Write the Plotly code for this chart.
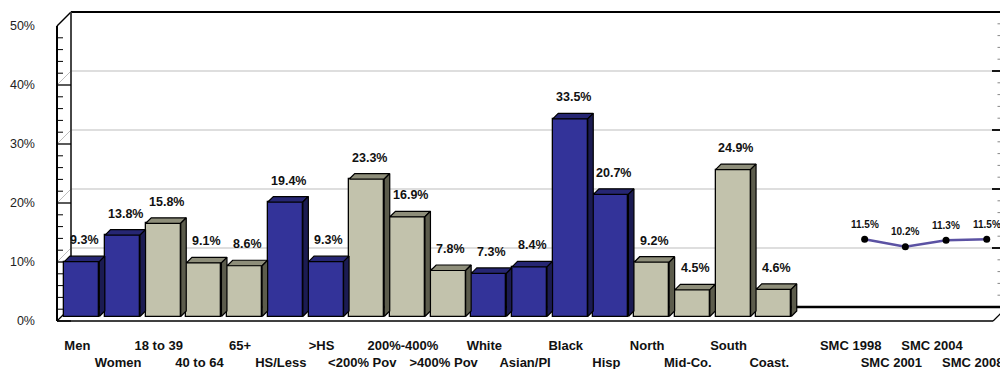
import plotly.graph_objects as go

# ---------------- data ----------------
categories = ["Men", "Women", "18 to 39", "40 to 64", "65+", "HS/Less", ">HS",
              "<200% Pov", "200%-400%", ">400% Pov", "White", "Asian/PI", "Black",
              "Hisp", "North", "Mid-Co.", "South", "Coast."]
values = [9.3, 13.8, 15.8, 9.1, 8.6, 19.4, 9.3, 23.3, 16.9, 7.8, 7.3, 8.4, 33.5,
          20.7, 9.2, 4.5, 24.9, 4.6]
groups = ["navy", "navy", "gray", "gray", "gray", "navy", "navy", "gray", "gray",
          "gray", "navy", "navy", "navy", "navy", "gray", "gray", "gray", "gray"]
smc_labels = ["SMC 1998", "SMC 2001", "SMC 2004", "SMC 2008"]
smc_values = [11.5, 10.2, 11.3, 11.5]
y_tickvals = [0, 10, 20, 30, 40, 50]
y_ticktext = ["0%", "10%", "20%", "30%", "40%", "50%"]

# ---------------- geometry ----------------
W, H = 1000, 369
PX_CAT = 40.7      # px per category
PX_PCT = 5.9       # px per percent
FRONT_LEFT = 57    # px of front-left wall edge
FLOOR = 321        # px of front floor edge
PL, PR, PT, PB = 50, 1000, 9, 327   # plot area in px


def px2x(px):
    return (px - FRONT_LEFT) / PX_CAT - 0.5


def px2y(py):
    return (FLOOR - py) / PX_PCT


DX, DY = 14 / PX_CAT, 14 / PX_PCT            # full depth of the 3D box
BDX, BDY = 4.5 / PX_CAT, 4.5 / PX_PCT        # bar front-face depth
TDX, TDY = 5.5 / PX_CAT, 5.5 / PX_PCT        # bar thickness
BW = 35 / PX_CAT

COL = {"navy": ("#333399", "#262673", "#1b1b52"),
       "gray": ("#C2C2AC", "#8E8E7A", "#5C5C4C")}

n = len(categories)
xb = [i + BDX for i in range(n)]
smc_x = [n + 1 + j for j in range(len(smc_labels))]
x_end_front = n + len(smc_labels) + 0.5

fig = go.Figure()

# front faces of the bars
fig.add_trace(go.Bar(
    x=xb, y=values, base=[BDY] * n, width=BW,
    marker=dict(color=[COL[g][0] for g in groups], line=dict(color="black", width=1.3)),
    hoverinfo="skip", showlegend=False))

# top and side faces
for g in ["navy", "gray"]:
    tx, ty, sx, sy = [], [], [], []
    for i in range(n):
        if groups[i] != g:
            continue
        xl, xr = xb[i] - BW / 2, xb[i] + BW / 2
        yb, yt = BDY, BDY + values[i]
        tx += [xl, xr, xr + TDX, xl + TDX, xl, None]
        ty += [yt, yt, yt + TDY, yt + TDY, yt, None]
        sx += [xr, xr + TDX, xr + TDX, xr, xr, None]
        sy += [yb, yb + TDY, yt + TDY, yt, yb, None]
    fig.add_trace(go.Scatter(x=tx, y=ty, mode="lines", fill="toself", fillcolor=COL[g][1],
                             line=dict(color="black", width=1.2), hoverinfo="skip", showlegend=False))
    fig.add_trace(go.Scatter(x=sx, y=sy, mode="lines", fill="toself", fillcolor=COL[g][2],
                             line=dict(color="black", width=1.2), hoverinfo="skip", showlegend=False))

# SMC line on the back wall
fig.add_trace(go.Scatter(
    x=[x + DX for x in smc_x], y=[v + DY for v in smc_values], mode="lines+markers",
    line=dict(color="#5B52A3", width=2.5), marker=dict(color="black", size=7),
    hoverinfo="skip", showlegend=False))

# ---------------- box frame ----------------
shapes = []
xr_end = px2x(PR)


def ln(x0, y0, x1, y1, color="black", width=1.0, layer="below"):
    shapes.append(dict(type="line", xref="x", yref="y", x0=x0, y0=y0, x1=x1, y1=y1,
                       line=dict(color=color, width=width), layer=layer))


for k in [10, 20, 30, 40]:
    ln(-0.5 + DX, k + DY, xr_end, k + DY, "#BDBDBD", 1)          # back-wall gridlines
    ln(-0.5, k, -0.5 + DX, k + DY, "#BDBDBD", 1)                 # left-wall gridlines
ln(-0.5 + DX, 50 + DY, xr_end, 50 + DY, "black", 2)              # top back edge
ln(-0.5, 50, -0.5 + DX, 50 + DY, "black", 1.5)                   # top diagonal
ln(-0.5 + DX, DY, -0.5 + DX, 50 + DY, "#333", 1.8)                # back-left edge
ln(-0.5, 0, -0.5, 50, "black", 2)                                # front-left edge
ln(-0.5 + DX, DY, xr_end, DY, "black", 2.5)                      # floor back edge
ln(-0.5, 0, x_end_front, 0, "black", 1.5)                        # floor front edge
ln(-0.5, 0, -0.5 + DX, DY, "black", 1.2)                         # floor left diagonal
ln(x_end_front, 0, x_end_front + DX, DY, "black", 1.2)           # floor right diagonal

# tick marks on the left wall
for t in range(0, 50, 2):
    if t % 10 == 0:
        ln(-0.5, t, -0.5 + DX, t, "black", 1.3)
    else:
        ln(-0.5, t, px2x(63), t, "black", 1)
# tick marks on the right (back) axis
for t in range(0, 50, 2):
    if t % 10 == 0:
        ln(px2x(992), t + DY, xr_end, t + DY, "black", 1.8)
    else:
        ln(px2x(997.5), t + DY, xr_end, t + DY, "#888", 1)

# ---------------- annotations ----------------
ann = []
for i in range(n):
    ann.append(dict(x=xb[i] + TDX / 2, y=BDY + values[i] + TDY, xref="x", yref="y",
                    text=f"{values[i]:.1f}%", showarrow=False, yanchor="middle", yshift=16,
                    font=dict(family="Liberation Sans, Arial", size=12.5, color="#111", weight="bold")))
for j, v in enumerate(smc_values):
    ann.append(dict(x=smc_x[j] + DX, y=v + DY, xref="x", yref="y", text=f"{v:.1f}%",
                    showarrow=False, yanchor="middle", yshift=15,
                    font=dict(family="Liberation Sans, Arial", size=10, color="#111", weight="bold")))

# staggered category tick labels
tickvals, ticktext = [], []
for i, c in enumerate(categories):
    tickvals.append(i)
    ticktext.append(c if i % 2 == 0 else "<br>" + c)
for j, c in enumerate(smc_labels):
    tickvals.append(smc_x[j])
    ticktext.append(c if j % 2 == 0 else "<br>" + c)

fig.update_layout(
    width=W, height=H,
    margin=dict(l=PL, r=W - PR, t=PT, b=H - PB, pad=0, autoexpand=False),
    paper_bgcolor="white", plot_bgcolor="white",
    showlegend=False, bargap=0,
    shapes=shapes, annotations=ann,
    xaxis=dict(range=[px2x(PL), px2x(PR)], tickmode="array", tickvals=tickvals, ticktext=ticktext,
               showgrid=False, zeroline=False, showline=False, ticks="", tickangle=0,
               automargin=False, ticklabelstandoff=9, ticklabeloverflow="allow",
               tickfont=dict(family="Liberation Sans, Arial", size=13, color="#111", weight="bold")),
    yaxis=dict(range=[px2y(PB), px2y(PT)], tickmode="array", tickvals=y_tickvals, ticktext=y_ticktext,
               showgrid=False, zeroline=False, showline=False, ticks="", automargin=False,
               ticklabelstandoff=14,
               tickfont=dict(family="Liberation Sans, Arial", size=12.5, color="#222")),
)

fig.write_html("out.html", config={"displayModeBar": False},
               post_script="document.body.style.margin='0px';document.body.style.overflow='hidden';")
